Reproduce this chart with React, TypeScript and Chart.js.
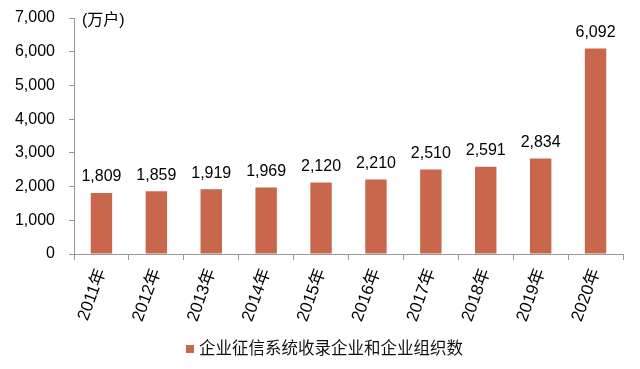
import React, { useEffect, useRef } from "react";
import { Chart, registerables } from "chart.js";

Chart.register(...registerables);

const categories = ["2011年", "2012年", "2013年", "2014年", "2015年", "2016年", "2017年", "2018年", "2019年", "2020年"];
const values = [1809, 1859, 1919, 1969, 2120, 2210, 2510, 2591, 2834, 6092];
const seriesName = "企业征信系统收录企业和企业组织数";
const unitLabel = "(万户)";

const FONT = "Arial, 'Liberation Sans', 'Noto Sans CJK SC', sans-serif";
const BAR = "#C8674B";

export default function App() {
  const ref = useRef<HTMLCanvasElement | null>(null);
  useEffect(() => {
    document.body.style.margin = "0";
    const extras = {
      id: "extras",
      afterDatasetsDraw(chart: any) {
        const ctx = chart.ctx;
        const meta = chart.getDatasetMeta(0);
        ctx.save();
        ctx.fillStyle = "#000";
        ctx.font = `16px ${FONT}`;
        ctx.textAlign = "center";
        ctx.textBaseline = "bottom";
        meta.data.forEach((el: any, i: number) => {
          ctx.fillText(values[i].toLocaleString("en-US"), el.x, el.y - 8);
        });
        // unit label
        ctx.textAlign = "left";
        ctx.textBaseline = "middle";
        ctx.font = `16px ${FONT}`;
        ctx.fillText(unitLabel, chart.chartArea.left + 8, chart.chartArea.top + 3);
        // legend
        ctx.font = `16.5px ${FONT}`;
        const x0 = 186;
        const y0 = 349;
        ctx.fillStyle = BAR;
        ctx.fillRect(x0, y0 - 4, 8, 8);
        ctx.fillStyle = "#111";
        ctx.fillText(seriesName, x0 + 13, y0);
        ctx.restore();
      },
    };
    const chart = new Chart(ref.current!, {
      type: "bar",
      data: {
        labels: categories,
        datasets: [
          {
            label: seriesName,
            data: values,
            backgroundColor: BAR,
            barPercentage: 0.39,
            categoryPercentage: 1,
          },
        ],
      },
      options: {
        animation: false,
        responsive: false,
        maintainAspectRatio: false,
        layout: { padding: { top: 18, right: 17, left: 0, bottom: 0 } },
        plugins: { legend: { display: false }, tooltip: { enabled: false } },
        scales: {
          x: {
            grid: { display: true, drawOnChartArea: false, drawTicks: true, tickLength: 6, color: "#999", offset: true },
            border: { display: true, color: "#999", width: 1 },
            ticks: {
              color: "#000",
              font: { size: 17, family: FONT },
              minRotation: 70,
              maxRotation: 70,
              padding: 6,
              autoSkip: false,
            },
            afterFit(scale: any) {
              scale.height = 115;
              scale.paddingLeft = 0;
              scale.paddingRight = 0;
            },
          },
          y: {
            min: 0,
            max: 7000,
            grid: { display: true, drawOnChartArea: false, drawTicks: true, tickLength: 5, color: "#999" },
            border: { display: true, color: "#999", width: 1 },
            ticks: {
              stepSize: 1000,
              color: "#000",
              font: { size: 16, family: FONT },
              padding: 14,
              callback: (v: any) => Number(v).toLocaleString("en-US"),
            },
            afterFit(scale: any) {
              scale.width = 74;
              scale.paddingTop = 0;
              scale.paddingBottom = 0;
            },
          },
        },
      },
      plugins: [extras],
    });
    return () => chart.destroy();
  }, []);
  return (
    <div style={{ position: "absolute", left: 0, top: 0, width: 640, height: 369, background: "#fff" }}>
      <canvas ref={ref} width={640} height={369} style={{ width: 640, height: 369 }} />
    </div>
  );
}
